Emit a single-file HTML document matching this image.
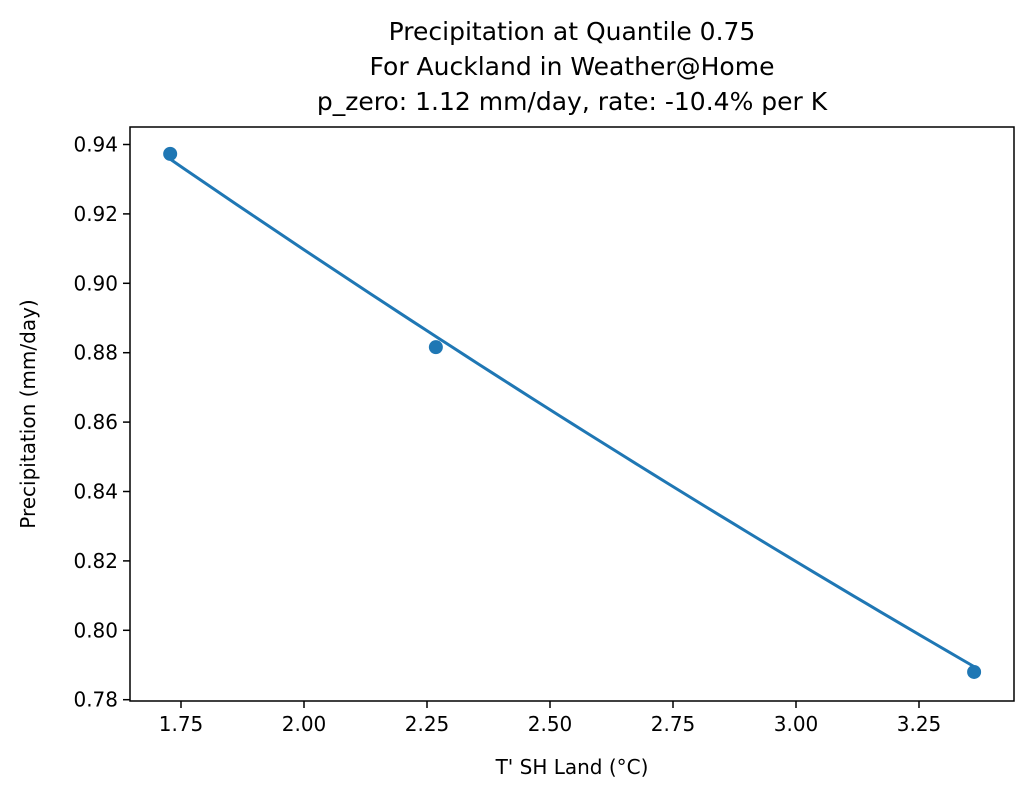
<!DOCTYPE html>
<html><head><meta charset="utf-8"><style>
body{margin:0;background:#fff;}
svg{display:block;font-family:"DejaVu Sans","Liberation Sans",sans-serif;}
</style></head><body>
<svg id="chart" width="1033" height="797">
<g font-size="25" text-anchor="middle" fill="#000">
<text x="572" y="40">Precipitation at Quantile 0.75</text>
<text x="572" y="75">For Auckland in Weather@Home</text>
<text x="572" y="110">p_zero: 1.12 mm/day, rate: -10.4% per K</text>
</g>
<g id="plot"></g>
<text x="572" y="774" font-size="20" text-anchor="middle">T' SH Land (°C)</text>
<text transform="translate(35,414) rotate(-90)" font-size="20" text-anchor="middle">Precipitation (mm/day)</text>
</svg>
<script>
const xValues=[1.728,2.268,3.362];
const yValues=[0.9373,0.8816,0.7880];
const fitParams=[1.12,-0.104];
const xTicks=[1.75,2.00,2.25,2.50,2.75,3.00,3.25];
const yTicks=[0.78,0.80,0.82,0.84,0.86,0.88,0.90,0.92,0.94];
const L=130,R=1014,T=127,B=701;
const sx=v=>181+(v-1.75)/0.25*123;
const sy=v=>144.5+(0.94-v)/0.02*69.4;
const NS="http://www.w3.org/2000/svg";
const g=document.getElementById('plot');
function mk(t,a){const e=document.createElementNS(NS,t);for(const k in a)e.setAttribute(k,a[k]);g.appendChild(e);return e;}
const x0=Math.min(...xValues),x1=Math.max(...xValues);
const pts=[];
for(let i=0;i<=60;i++){const x=x0+(x1-x0)*i/60;pts.push(sx(x).toFixed(2)+','+sy(fitParams[0]*Math.exp(fitParams[1]*x)).toFixed(2));}
const ln=mk('polyline',{points:pts.join(' '),fill:'none',stroke:'#1f77b4','stroke-width':3});


xValues.forEach((x,i)=>{
const c=mk('circle',{cx:sx(x),cy:sy(yValues[i]),r:7,fill:'#1f77b4'});


});
xTicks.forEach(t=>{
const l=mk('line',{x1:sx(t),x2:sx(t),y1:B,y2:B+7,stroke:'#000','stroke-width':1.5});


const tx=mk('text',{x:sx(t),y:B+30,'font-size':20,'text-anchor':'middle'});
tx.textContent=t.toFixed(2);


});
yTicks.forEach(t=>{
const l=mk('line',{x1:L-7,x2:L,y1:sy(t),y2:sy(t),stroke:'#000','stroke-width':1.5});


const tx=mk('text',{x:L-12,y:sy(t)+7,'font-size':20,'text-anchor':'end'});
tx.textContent=t.toFixed(2);


});
const fr=mk('rect',{x:L,y:T,width:R-L,height:B-T,fill:'none',stroke:'#000','stroke-width':1.5});


</script>
</body></html>
